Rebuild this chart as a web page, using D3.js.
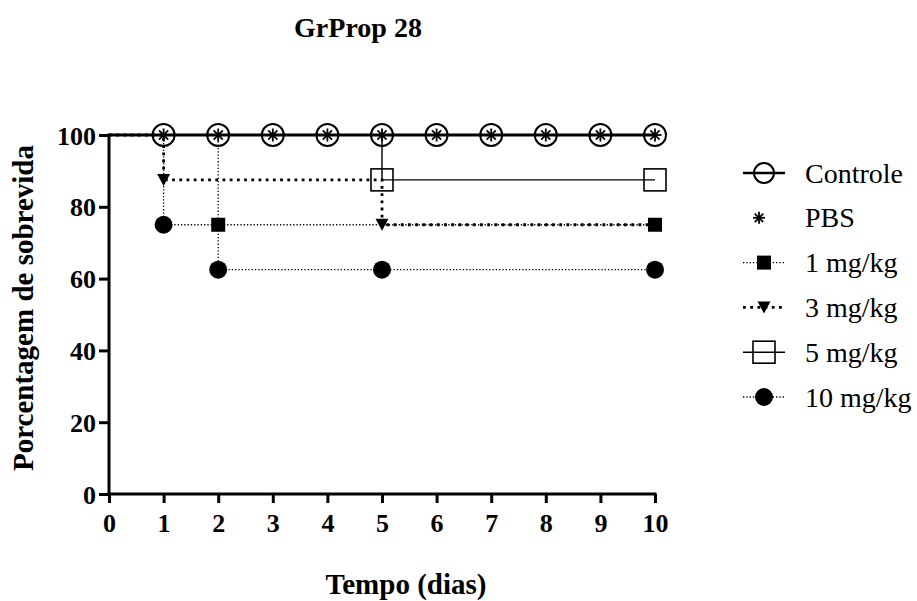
<!DOCTYPE html>
<html><head><meta charset="utf-8">
<script src="https://cdn.jsdelivr.net/npm/d3@7"></script>
<style>body{margin:0;background:#fff}svg{display:block}</style>
</head><body><svg id="c" width="917" height="601"></svg>
<script>
const days = [0,1,2,3,4,5,6,7,8,9,10];
const xTicks = [0,1,2,3,4,5,6,7,8,9,10];
const yTicks = [0,20,40,60,80,100];
const controle = [100,100,100,100,100,100,100,100,100,100,100];
const pbs      = [100,100,100,100,100,100,100,100,100,100,100];
const mg1      = [100,100,75,75,75,75,75,75,75,75,75];
const mg3      = [100,87.5,87.5,87.5,87.5,75,75,75,75,75,75];
const mg5      = [100,100,100,100,100,87.5,87.5,87.5,87.5,87.5,87.5];
const mg10     = [100,75,62.5,62.5,62.5,62.5,62.5,62.5,62.5,62.5,62.5];
const markDaysControle = [1,2,3,4,5,6,7,8,9,10];
const markDaysPbs = [1,2,3,4,5,6,7,8,9,10];
const markDays1 = [2,10];
const markDays3 = [1,5];
const markDays5 = [5,10];
const markDays10 = [1,2,5,10];
const legendLabels = ["Controle","PBS","1 mg/kg","3 mg/kg","5 mg/kg","10 mg/kg"];

const FONT = '"Liberation Serif", "Times New Roman", Tinos, serif';
const svg = d3.select("#c");
const x = d3.scaleLinear().domain([0,10]).range([109,655]);
const y = d3.scaleLinear().domain([0,100]).range([494,135]);

svg.append("text").attr("x",358).attr("y",37).attr("text-anchor","middle")
  .attr("font-size",28).attr("font-weight","bold").text("GrProp 28");

// axes
const gx = svg.append("g").attr("transform","translate(0,494)")
  .call(d3.axisBottom(x).tickValues(xTicks).tickSize(9).tickPadding(6).tickFormat(d3.format("d")));
const gy = svg.append("g").attr("transform","translate(109,0)")
  .call(d3.axisLeft(y).tickValues(yTicks).tickSize(10).tickPadding(3).tickFormat(d3.format("d")));
gx.select(".domain").attr("stroke","#000").attr("stroke-width",3).attr("d","M107.5,0H656.5");
gy.select(".domain").attr("stroke","#000").attr("stroke-width",3).attr("d","M0,495.5V133.5");
[gx,gy].forEach(g=>{
  g.selectAll(".tick line").attr("stroke","#000").attr("stroke-width",3);
  g.selectAll(".tick text").attr("font-size",26).attr("font-weight","bold").attr("fill","#000");
});
gx.selectAll(".tick text").attr("dy",null).attr("y",38);
gy.selectAll(".tick text").attr("dy","0.35em");

svg.append("text").attr("transform","translate(33,308) rotate(-90)").attr("text-anchor","middle")
  .attr("font-size",29).attr("font-weight","bold").text("Porcentagem de sobrevida");
svg.append("text").attr("x",406).attr("y",594).attr("text-anchor","middle")
  .attr("font-size",29).attr("font-weight","bold").text("Tempo (dias)");

const line = d3.line().x((d,i)=>x(days[i])).y(d=>y(d)).curve(d3.curveStepAfter);
const styles = {
  thinDot: {w:1.3, dash:"1.3,2"},
  thickDot:{w:2.8, dash:"2.8,4.4"},
  solidThin:{w:1.4, dash:null},
  solidThick:{w:3.2, dash:null}
};
function drawLine(data, st){
  svg.append("path").attr("d",line(data)).attr("fill","none").attr("stroke","#000")
    .attr("stroke-width",st.w).attr("stroke-dasharray",st.dash);
}
drawLine(mg10, styles.thinDot);
drawLine(mg1, styles.thinDot);
drawLine(mg3, styles.thickDot);
drawLine(mg5, styles.solidThin);
drawLine(controle, styles.solidThick);

// marker functions
function openCircle(g,cx,cy,r){ g.append("circle").attr("cx",cx).attr("cy",cy).attr("r",r||11).attr("fill","none").attr("stroke","#000").attr("stroke-width",2); }
function asterisk(g,cx,cy,s){ s=s||6.5;
  for(let k=0;k<4;k++){ const a=k*Math.PI/4;
    g.append("line").attr("x1",cx-s*Math.cos(a)).attr("y1",cy-s*Math.sin(a)).attr("x2",cx+s*Math.cos(a)).attr("y2",cy+s*Math.sin(a)).attr("stroke","#000").attr("stroke-width",1.8);}
}
function fillSquare(g,cx,cy){ g.append("rect").attr("x",cx-7).attr("y",cy-7).attr("width",14).attr("height",14).attr("fill","#000"); }
function openSquare(g,cx,cy){ g.append("rect").attr("x",cx-11).attr("y",cy-11).attr("width",22).attr("height",22).attr("fill","none").attr("stroke","#000").attr("stroke-width",1.6); }
function triangle(g,cx,cy){ g.append("path").attr("d",`M${cx-6.5},${cy-6}L${cx+6.5},${cy-6}L${cx},${cy+6}Z`).attr("fill","#000"); }
function fillCircle(g,cx,cy){ g.append("circle").attr("cx",cx).attr("cy",cy).attr("r",9).attr("fill","#000"); }

const gm = svg.append("g");
markDays10.forEach(d=>fillCircle(gm,x(d),y(mg10[d])));
markDays1.forEach(d=>fillSquare(gm,x(d),y(mg1[d])));
markDays3.forEach(d=>triangle(gm,x(d),y(mg3[d])));
markDays5.forEach(d=>openSquare(gm,x(d),y(mg5[d])));
markDaysControle.forEach(d=>openCircle(gm,x(d),y(controle[d])));
markDaysPbs.forEach(d=>asterisk(gm,x(d),y(pbs[d])));

// legend
const lg = svg.append("g");
const lx1=743, lx2=785, lcx=764;
const legStyles = [styles.solidThick,null,styles.thinDot,styles.thickDot,styles.solidThin,styles.thinDot];
const legMarks = [(g,a,b)=>openCircle(g,a,b,10),(g,a,b)=>asterisk(g,a-5,b,6),fillSquare,triangle,openSquare,fillCircle];
legendLabels.forEach((lab,i)=>{
  const ly = 173 + i*44.8;
  const st = legStyles[i];
  if(st) lg.append("line").attr("x1",lx1).attr("x2",lx2).attr("y1",ly).attr("y2",ly)
    .attr("stroke","#000").attr("stroke-width",i===0?2.5:st.w).attr("stroke-dasharray",st.dash);
  legMarks[i](lg,lcx,ly);
  lg.append("text").attr("x",805).attr("y",ly).attr("dy","0.34em").attr("font-size",28).text(lab);
});

svg.selectAll("text").style("font-family",FONT).style("fill","#000");
</script></body></html>
